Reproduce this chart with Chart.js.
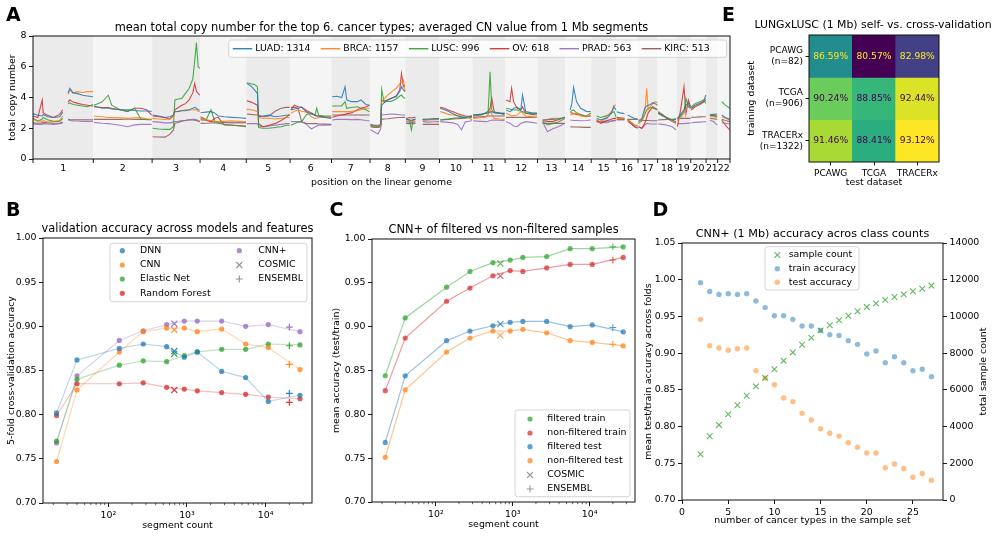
<!DOCTYPE html>
<html><head><meta charset="utf-8">
<script src="https://cdn.jsdelivr.net/npm/chart.js@4.4.1/dist/chart.umd.min.js"></script>
<style>
html,body{margin:0;padding:0;background:#fff;}
#wrap{position:relative;width:1000px;height:537px;overflow:hidden;background:#fff;}
canvas{position:absolute;}
</style></head><body>
<div id="wrap">
<canvas id="cA" width="740" height="195" style="left:0px;top:0px"></canvas>
<canvas id="cE" width="260" height="195" style="left:740px;top:0px"></canvas>
<canvas id="cB" width="330" height="342" style="left:0px;top:195px"></canvas>
<canvas id="cC" width="330" height="342" style="left:330px;top:195px"></canvas>
<canvas id="cD" width="370" height="342" style="left:630px;top:195px"></canvas>
</div>
<script>
// ================= DATA =================
// ---- Panel A: mean total copy number along the genome (positions in Mb, cumulative) ----
const chromNames = ['1','2','3','4','5','6','7','8','9','10','11','12','13','14','15','16','17','18','19','20','21','22'];
const chromLenMb = [249,243,198,191,181,171,159,146,141,136,135,134,115,107,103,90,81,78,59,63,48,51];
const cancerTypes = ['LUAD','BRCA','LUSC','OV','PRAD','KIRC'];
const cancerCounts = [1314,1157,996,618,563,513];
const cnPos = [
 [0,20,38,42,60,85,110,123],
 [145,152,165,185,205,225,248],
 [252,285,311,325,360,390,420,445,470,490],
 [494,520,545,565,580,586,600,615,630,645,660,668,675,682,689],
 [692,715,735,750,765,790,820,850,880],
 [883,900,915,927,932,950,975,1000,1025,1045,1060],
 [1065,1080,1095,1110,1130,1150,1165,1172,1180,1205,1232],
 [1236,1255,1275,1289,1296,1315,1340,1355,1375,1390],
 [1394,1410,1425,1436,1440,1450,1465,1480,1500,1515,1522,1530,1537],
 [1541,1555,1563,1570,1580],
 [1610,1630,1655,1677],
 [1682,1700,1715,1735,1755,1770,1785,1800,1813],
 [1818,1850,1870,1880,1888,1895,1905,1925,1948],
 [1954,1970,1977,1985,2000,2015,2022,2035,2060,2082],
 [2105,2125,2145,2170,2197],
 [2219,2226,2233,2245,2262,2285,2304],
 [2328,2345,2370,2390,2400,2408],
 [2411,2425,2443],
 [2456,2470,2485,2498],
 [2501,2515,2527,2535,2541,2550,2560,2570,2579],
 [2582,2600,2620,2640,2656],
 [2662,2675,2689,2697,2707,2716],
 [2719,2735,2755,2770,2779],
 [2796,2810,2826],
 [2845,2860,2878]
];
const cnLUAD = [
 [2.95,2.85,2.8,2.9,2.75,2.7,2.75,3.05],
 [4.3,4.6,4.3,4.25,4.15,4.1,4.05],
 [3.45,3.3,3.3,3.25,3.2,3.2,3.15,3.12,3.12,3.1],
 [2.86,2.8,2.7,2.75,2.85,3.08,3.1,3.14,3.14,3.2,3.3,3.36,3.3,3.2,3.19],
 [3.01,3.05,3.08,3.0,2.8,2.75,2.71,2.68,2.64],
 [4.92,4.75,4.5,4.27,2.75,2.8,2.85,2.75,2.8,2.85,2.86],
 [3.19,3.25,3.3,3.38,3.05,2.95,2.85,2.8,2.8,2.7,2.64],
 [4.05,4.08,4.0,4.7,3.85,3.73,3.73,3.84,3.55,3.5],
 [2.25,2.2,2.2,2.25,3.5,3.65,3.84,3.95,4.05,4.4,4.7,4.5,4.38],
 [2.58,2.55,2.5,2.55,2.58],
 [2.58,2.6,2.62,2.62],
 [3.3,3.2,3.1,2.95,2.8,2.75,2.71,2.75,2.8],
 [2.86,2.9,2.97,3.0,3.05,3.08,3.0,2.97,2.97],
 [3.19,3.08,3.15,3.3,3.36,3.19,4.16,3.08,3.0,2.97],
 [2.54,2.55,2.58,2.6,2.71],
 [3.19,3.62,4.66,3.73,3.3,3.1,3.08],
 [2.64,2.55,2.64,3.0,3.4,3.19],
 [3.08,3.0,2.95],
 [2.86,2.75,2.64,2.58],
 [2.43,2.64,3.3,3.45,3.5,3.55,3.66,3.6,3.5],
 [3.01,2.85,2.64,2.54,2.43],
 [2.64,2.9,3.19,3.5,3.62,3.3],
 [3.3,3.5,3.62,3.73,4.16],
 [2.86,2.9,2.93],
 [2.86,2.7,2.58]
];
const cnBRCA = [
 [2.55,2.5,2.45,2.5,2.42,2.42,2.5,2.8],
 [4.2,4.5,4.3,4.38,4.33,4.38,4.38],
 [2.8,2.75,2.7,2.7,2.68,2.65,2.68,2.7,2.6,2.55],
 [2.64,2.6,2.58,2.6,2.75,3.08,3.1,3.15,3.2,3.19,3.2,3.22,3.2,3.1,3.08],
 [2.58,2.55,2.5,2.45,2.43,2.45,2.48,2.45,2.43],
 [3.23,3.2,3.15,3.08,2.7,2.65,2.65,2.6,2.65,2.7,2.7],
 [2.97,3.1,3.2,3.1,3.05,2.75,2.64,2.65,2.7,2.7,2.71],
 [3.08,3.08,3.08,3.08,3.08,3.1,3.14,3.2,3.3,3.3],
 [2.2,2.15,2.15,2.2,3.73,3.9,4.16,4.35,4.6,4.9,5.0,5.14,4.38],
 [2.54,2.5,2.45,2.5,2.54],
 [2.54,2.55,2.55,2.55],
 [3.08,3.0,2.9,2.86,2.82,2.8,2.8,2.7,2.54],
 [2.64,2.68,2.71,2.9,3.19,2.9,2.64,2.6,2.58],
 [2.97,2.86,2.8,2.82,2.86,3.08,3.0,2.8,2.75,2.71],
 [2.54,2.58,2.64,2.64,2.64],
 [2.86,2.9,2.95,2.97,2.8,2.75,2.86],
 [2.54,2.43,2.75,3.1,3.5,3.5],
 [2.64,2.64,2.64],
 [2.54,2.4,2.21,2.2],
 [2.32,2.54,2.97,4.6,3.19,3.4,3.6,3.73,3.66],
 [3.08,2.86,2.64,2.54,2.36],
 [2.49,2.7,2.97,3.3,3.4,3.36],
 [3.3,3.45,3.6,3.8,3.95],
 [2.8,2.75,2.71],
 [2.75,2.65,2.54]
];
const cnLUSC = [
 [2.65,2.45,2.6,2.7,2.55,2.45,2.45,2.65],
 [3.6,3.65,3.55,3.5,3.45,3.4,3.55],
 [3.5,3.7,4.15,3.5,3.2,3.1,3.3,2.6,2.55,2.55],
 [2.0,1.95,1.93,1.93,2.1,3.84,3.9,3.95,4.27,4.6,5.2,6.4,7.57,6.0,5.9],
 [2.64,2.55,3.2,2.5,2.32,2.25,2.21,2.15,2.1],
 [4.96,4.9,4.85,4.7,2.05,2.0,2.0,2.05,2.1,2.2,2.2],
 [2.2,2.3,2.4,2.43,2.9,2.95,2.85,3.3,2.85,2.8,2.8],
 [3.45,3.45,3.45,3.73,3.3,3.35,3.4,3.3,3.2,3.08],
 [2.15,2.1,2.1,2.2,4.53,3.73,3.75,3.75,3.9,4.1,4.16,4.0,3.95],
 [2.64,2.5,1.89,2.55,2.6],
 [2.58,2.55,2.58,2.6],
 [2.54,2.58,2.6,2.64,2.68,2.7,2.72,2.75,2.8],
 [2.8,2.86,3.0,3.1,5.68,3.2,3.05,3.0,2.86],
 [3.3,3.25,3.2,3.2,3.19,3.1,3.08,3.0,2.97,2.97],
 [2.43,2.21,2.3,2.4,2.64],
 [3.08,3.15,3.19,3.0,2.9,2.8,2.97],
 [2.8,2.7,2.82,3.0,3.08,2.75],
 [2.7,2.65,2.6],
 [2.58,2.4,2.2,2.15],
 [2.32,2.5,2.9,3.19,3.3,3.36,3.3,3.25,3.23],
 [2.97,2.8,2.7,2.54,2.64],
 [2.54,2.8,3.08,3.95,3.4,3.3],
 [3.4,3.6,3.73,3.84,3.62],
 [2.86,2.82,2.75],
 [3.73,3.5,3.3]
];
const cnOV = [
 [2.8,2.7,3.84,3.0,2.85,2.7,2.9,3.2],
 [3.7,3.85,3.7,3.62,3.55,3.5,3.45],
 [3.4,3.35,3.35,3.3,3.2,3.1,3.3,3.3,3.2,2.86],
 [2.8,2.75,2.7,2.6,2.85,3.2,3.35,3.5,3.6,3.84,4.3,4.92,4.4,4.27,4.16],
 [2.75,2.55,2.43,2.65,2.71,2.21,2.2,2.18,2.15],
 [3.79,3.7,3.6,3.5,2.3,2.1,2.2,2.3,2.5,2.7,2.9],
 [3.19,3.5,3.4,3.36,3.15,3.0,2.85,2.8,2.8,2.75,2.71],
 [2.71,2.8,2.86,2.9,2.95,3.0,3.2,3.3,3.4,3.5],
 [2.2,2.15,2.1,2.2,3.84,3.75,3.85,3.95,4.1,4.5,5.57,4.7,4.8],
 [2.64,2.7,2.65,2.7,2.71],
 [2.54,2.55,2.6,2.62],
 [3.36,3.3,3.19,3.08,2.95,2.86,2.8,2.78,2.8],
 [2.86,2.9,2.97,3.1,3.3,3.95,3.05,2.97,2.97],
 [3.84,3.73,4.6,3.73,3.3,3.2,3.4,2.97,2.9,2.86],
 [2.49,2.45,2.43,2.55,2.71],
 [3.01,3.0,2.95,2.9,2.86,2.75,2.8],
 [2.54,2.32,2.49,2.6,2.64,2.64],
 [2.71,2.68,2.64],
 [2.54,2.3,2.1,2.0],
 [2.1,2.0,2.32,2.7,3.0,3.19,3.4,3.3,3.19],
 [3.08,2.9,2.64,2.43,2.32],
 [2.1,3.19,4.7,2.97,3.84,3.4],
 [3.19,3.4,3.55,3.7,3.84],
 [2.86,2.84,2.8],
 [2.54,2.2,1.89]
];
const cnPRAD = [
 [2.28,2.25,2.25,2.3,2.28,2.25,2.3,2.35],
 [2.55,2.5,2.48,2.47,2.45,2.45,2.45],
 [2.38,2.33,2.3,2.28,2.2,2.1,2.22,2.25,2.25,2.25],
 [2.43,2.4,2.35,2.35,2.4,2.43,2.45,2.5,2.52,2.55,2.58,2.58,2.55,2.5,2.49],
 [2.54,2.5,2.45,2.43,2.42,2.4,2.36,2.36,2.36],
 [2.3,2.3,2.3,2.3,2.15,2.1,2.15,2.2,2.25,2.3,2.3],
 [2.43,2.43,2.43,2.43,2.25,1.95,2.1,2.15,2.2,2.2,2.21],
 [2.54,2.58,2.58,2.58,2.58,2.56,2.58,2.55,2.5,2.49],
 [1.9,1.75,1.62,1.95,2.86,2.88,2.9,2.93,2.9,2.88,2.86,2.86,2.86],
 [2.43,2.4,2.35,2.4,2.43],
 [2.43,2.4,2.42,2.43],
 [2.43,2.4,2.38,2.35,2.25,1.89,2.4,2.45,2.49],
 [2.49,2.45,2.43,2.45,2.5,2.52,2.54,2.52,2.49],
 [2.43,2.32,2.25,2.15,2.1,2.32,2.35,2.43,2.38,2.32],
 [2.43,1.78,1.95,2.1,2.32],
 [2.54,2.52,2.5,2.5,2.49,2.5,2.54],
 [2.43,2.38,2.36,2.45,2.5,2.54],
 [2.54,2.54,2.54],
 [2.43,2.3,2.1,2.05],
 [2.1,2.0,2.2,2.32,2.3,2.28,2.28,2.28,2.28],
 [2.28,2.25,2.2,2.1,1.89],
 [2.28,2.3,2.3,2.32,2.32,2.36],
 [2.36,2.38,2.4,2.42,2.43],
 [2.5,2.45,2.2],
 [2.36,2.33,2.28]
];
const cnKIRC = [
 [2.35,2.33,2.35,2.38,2.35,2.33,2.33,2.4],
 [2.58,2.56,2.55,2.55,2.55,2.55,2.55],
 [2.58,2.58,2.58,2.58,2.58,2.6,2.58,2.58,2.58,2.58],
 [1.45,1.43,1.42,1.6,1.89,2.32,2.38,2.45,2.5,2.54,2.54,2.52,2.5,2.45,2.43],
 [2.32,2.33,2.34,2.35,2.35,2.36,2.36,2.36,2.36],
 [2.93,2.9,2.88,2.86,2.85,2.75,2.8,3.1,3.3,3.36,3.36],
 [3.36,3.36,3.3,2.4,2.32,2.3,2.3,2.3,2.28,2.27,2.25],
 [2.86,2.86,2.86,2.86,2.86,2.86,2.86,2.86,2.86,2.86],
 [2.1,2.05,2.05,2.1,2.58,2.6,2.62,2.65,2.68,2.7,2.7,2.71,2.71],
 [2.32,2.3,2.3,2.3,2.32],
 [2.25,2.25,2.25,2.25],
 [2.54,2.56,2.58,2.6,2.62,2.64,2.66,2.68,2.71],
 [2.71,2.75,2.78,2.8,2.8,2.8,2.8,2.8,2.8],
 [2.71,2.71,2.71,2.71,2.71,2.71,2.71,2.71,2.71,2.71],
 [2.32,2.32,2.32,2.32,2.32],
 [2.1,2.09,2.08,2.08,2.07,2.06,2.06],
 [2.43,2.45,2.47,2.48,2.49,2.49],
 [2.58,2.58,2.58],
 [2.58,2.58,2.58,2.58],
 [2.54,2.52,2.5,2.5,2.5,2.49,2.49,2.49,2.49],
 [2.54,2.56,2.58,2.58,2.58],
 [2.64,2.64,2.64,2.64,2.64,2.64],
 [2.71,2.72,2.74,2.75,2.75],
 [2.64,2.62,2.58],
 [2.58,2.5,2.43]
];
const ticksA_Y = [0,2,4,6,8];

// ---- Panel B: validation accuracy across models and features ----
const segCounts = [22,40,138,278,552,925,1352,2760,5570,10800,27300];
const cosmicCount = 690;
const ensemblCount = 20000;
const modelNames = ['DNN','CNN','Elastic Net','Random Forest','CNN+'];
const accDNN  = [0.802,0.862,0.875,0.880,0.877,0.865,0.871,0.849,0.842,0.815,0.822];
const accCNN  = [0.747,0.828,0.871,0.894,0.898,0.898,0.894,0.897,0.880,0.876,0.851];
const accEN   = [0.770,0.840,0.856,0.861,0.860,0.867,0.871,0.874,0.874,0.880,0.879];
const accRF   = [0.799,0.835,0.835,0.836,0.831,0.829,0.827,0.825,0.823,0.820,0.818];
const accCNNp = [0.768,0.844,0.884,0.895,0.902,0.906,0.906,0.906,0.900,0.902,0.894];
const accCosmic  = [0.872,0.896,0.869,0.828,0.903];
const accEnsembl = [0.824,0.857,0.878,0.814,0.899];
const ticksAcc = [0.70,0.75,0.80,0.85,0.90,0.95,1.00];
const ticksLog = [100,1000,10000];

// ---- Panel C: CNN+ of filtered vs non-filtered samples ----
const cSeriesNames = ['filtered train','non-filtered train','filtered test','non-filtered test'];
const cFiltTrain    = [0.844,0.910,0.945,0.963,0.973,0.976,0.979,0.980,0.989,0.989,0.991];
const cNonFiltTrain = [0.827,0.887,0.929,0.944,0.958,0.964,0.963,0.967,0.971,0.971,0.979];
const cFiltTest     = [0.768,0.844,0.884,0.895,0.901,0.905,0.906,0.906,0.900,0.902,0.894];
const cNonFiltTest  = [0.751,0.828,0.871,0.887,0.895,0.895,0.897,0.893,0.884,0.882,0.878];
const cCosmic  = [0.972,0.958,0.903,0.890];
const cEnsembl = [0.991,0.976,0.899,0.880];

// ---- Panel D: CNN+ (1 Mb) accuracy across class counts ----
const nTypes = [2,3,4,5,6,7,8,9,10,11,12,13,14,15,16,17,18,19,20,21,22,23,24,25,26,27];
const trainAcc = [0.996,0.984,0.980,0.981,0.980,0.981,0.971,0.962,0.951,0.951,0.946,0.937,0.937,0.931,0.925,0.924,0.917,0.912,0.899,0.903,0.887,0.895,0.887,0.876,0.878,0.868];
const testAcc  = [0.946,0.910,0.907,0.904,0.906,0.907,0.876,0.866,0.857,0.839,0.834,0.818,0.809,0.797,0.791,0.787,0.778,0.772,0.764,0.764,0.744,0.749,0.743,0.731,0.736,0.727];
const sampleCount = [2490,3470,4090,4670,5160,5680,6190,6660,7120,7590,8040,8460,8840,9240,9520,9790,10040,10280,10510,10710,10900,11060,11200,11370,11510,11680];
const ticksD_X = [0,5,10,15,20,25];
const ticksD_Y = [0.70,0.75,0.80,0.85,0.90,0.95,1.00,1.05];
const ticksD_Y2 = [0,2000,4000,6000,8000,10000,12000,14000];

// ---- Panel E: LUNGxLUSC self- vs cross-validation ----
const eTestSets = ['PCAWG','TCGA','TRACERx'];
const eTrainSets = ['PCAWG','TCGA','TRACERx'];
const eTrainN = [82,906,1322];
const eAcc = [
 [86.59,80.57,82.98],
 [90.24,88.85,92.44],
 [91.46,88.41,93.12]
];

// ================= STYLE / HELPERS =================
const FONT = "'DejaVu Sans', sans-serif";
Chart.defaults.font.family = FONT;
Chart.defaults.font.size = 9.4;
Chart.defaults.color = '#000';
Chart.defaults.animation = false;
Chart.defaults.responsive = false;
Chart.defaults.plugins.legend.display = false;
Chart.defaults.plugins.tooltip.enabled = false;
Chart.defaults.events = [];

const TAB = {blue:'31,119,180', orange:'255,127,14', green:'44,160,44', red:'214,39,40', purple:'148,103,189', brown:'140,86,75', gray:'127,127,127'};
const rgba = (c,a) => `rgba(${TAB[c]},${a})`;

function txt(ctx, s, x, y, o = {}) {
  ctx.save();
  ctx.font = `${o.weight || 'normal'} ${o.size || 9.4}px ${FONT}`;
  ctx.fillStyle = o.color || '#000';
  ctx.textAlign = o.align || 'center';
  ctx.textBaseline = o.baseline || 'alphabetic';
  ctx.translate(x, y);
  if (o.rot) ctx.rotate(o.rot);
  ctx.fillText(s, 0, 0);
  ctx.restore();
}
function frame(chart) {
  const a = chart.chartArea, c = chart.ctx;
  c.save(); c.strokeStyle = '#111'; c.lineWidth = 1;
  c.strokeRect(a.left, a.top, a.right - a.left, a.bottom - a.top);
  c.restore();
}
function lbox(ctx, x, y, w, h) {
  const r = 2.5;
  ctx.save();
  ctx.fillStyle = 'rgba(255,255,255,0.8)'; ctx.strokeStyle = '#d0d0d0'; ctx.lineWidth = 0.9;
  ctx.beginPath();
  ctx.moveTo(x + r, y); ctx.lineTo(x + w - r, y); ctx.arcTo(x + w, y, x + w, y + r, r);
  ctx.lineTo(x + w, y + h - r); ctx.arcTo(x + w, y + h, x + w - r, y + h, r);
  ctx.lineTo(x + r, y + h); ctx.arcTo(x, y + h, x, y + h - r, r);
  ctx.lineTo(x, y + r); ctx.arcTo(x, y, x + r, y, r);
  ctx.closePath(); ctx.fill(); ctx.stroke();
  ctx.restore();
}
function mark(ctx, type, x, y, color, r) {
  ctx.save(); ctx.fillStyle = color; ctx.strokeStyle = color; ctx.lineWidth = 1.1;
  ctx.beginPath();
  if (type === 'circle') { ctx.arc(x, y, r, 0, Math.PI * 2); ctx.fill(); }
  else if (type === 'x') { ctx.moveTo(x - r, y - r); ctx.lineTo(x + r, y + r); ctx.moveTo(x - r, y + r); ctx.lineTo(x + r, y - r); ctx.stroke(); }
  else if (type === 'plus') { ctx.moveTo(x - r, y); ctx.lineTo(x + r, y); ctx.moveTo(x, y - r); ctx.lineTo(x, y + r); ctx.stroke(); }
  else if (type === 'line') { ctx.lineWidth = 1.4; ctx.moveTo(x, y); ctx.lineTo(x + r, y); ctx.stroke(); }
  ctx.restore();
}
function tickGrid(len) {
  return {display: true, drawOnChartArea: false, drawTicks: true, tickLength: len, tickColor: '#000', tickWidth: 0.9};
}
function mkAxis(type, pos, min, max, ticks, fmt, size, extra = {}) {
  const fs = extra.fontSize || 9.4;
  const ax = {
    type, position: pos, min, max, bounds: 'data',
    grid: tickGrid(extra.tickLen || 4),
    border: {display: false},
    ticks: {padding: 2.5, color: '#000', font: {size: fs}, autoSkip: false, maxRotation: 0, minRotation: 0,
            callback: (v, i) => fmt(v, i)},
    afterBuildTicks: s => { s.ticks = ticks.map(v => ({value: v})); },
    afterFit: s => { if (s.isHorizontal()) s.height = size; else s.width = size; }
  };
  if (extra.reverse) ax.reverse = true;
  return ax;
}
const supMap = {100: '10\u00B2', 1000: '10\u00B3', 10000: '10\u2074'};
function logMinor(chart) {
  const {ctx, scales: {x}, chartArea: a} = chart;
  ctx.save(); ctx.strokeStyle = '#000'; ctx.lineWidth = 0.6;
  for (let d = 10; d <= 10000; d *= 10) for (let k = 2; k <= 9; k++) {
    const v = k * d; if (v < x.min || v > x.max) continue;
    const px = x.getPixelForValue(v);
    ctx.beginPath(); ctx.moveTo(px, a.bottom); ctx.lineTo(px, a.bottom + 2.2); ctx.stroke();
  }
  ctx.restore();
}

// ================= PANEL A =================
const chromStart = [];
chromLenMb.reduce((acc, l) => { chromStart.push(acc); return acc + l; }, 0);
const genomeEnd = chromLenMb.reduce((a, b) => a + b, 0);
const chromCenter = chromStart.map((s, i) => s + chromLenMb[i] / 2);
const cnSeries = [cnLUAD, cnBRCA, cnLUSC, cnOV, cnPRAD, cnKIRC];
const cnColors = ['blue','orange','green','red','purple','brown'];
function toPts(pos, vals) {
  const out = [];
  pos.forEach((seg, i) => {
    seg.forEach((x, j) => out.push({x, y: vals[i][j]}));
    out.push({x: seg[seg.length - 1] + 0.5, y: null});
  });
  return out;
}
new Chart(document.getElementById('cA'), {
  type: 'scatter',
  data: {datasets: cnSeries.map((s, i) => ({
    data: toPts(cnPos, s), showLine: true, spanGaps: false,
    borderColor: rgba(cnColors[i], 0.85), borderWidth: 1.1, pointRadius: 0, tension: 0
  }))},
  options: {
    layout: {padding: {left: 0, right: 10, top: 36, bottom: 0}},
    scales: {
      x: {type: 'linear', min: 0, max: genomeEnd, bounds: 'data',
          grid: {display: true, drawOnChartArea: false, drawTicks: false},
          border: {display: false},
          ticks: {padding: 4, autoSkip: false, maxRotation: 0, minRotation: 0, color: '#000', font: {size: 9.4},
                  callback: (v, i) => chromNames[i]},
          afterBuildTicks: s => { s.ticks = chromCenter.map(v => ({value: v})); },
          afterFit: s => { s.height = 36; }},
      y: mkAxis('linear', 'left', 0, 8, ticksA_Y, v => String(v), 33)
    }
  },
  plugins: [{
    id: 'pA',
    beforeDatasetsDraw(chart) {
      const {ctx, chartArea: a, scales: {x}} = chart;
      ctx.save();
      chromStart.forEach((s, i) => {
        const x0 = x.getPixelForValue(s), x1 = x.getPixelForValue(s + chromLenMb[i]);
        ctx.fillStyle = i % 2 === 0 ? '#ebebeb' : '#f5f5f5';
        ctx.fillRect(x0, a.top, x1 - x0, a.bottom - a.top);
      });
      ctx.restore();
    },
    afterDraw(chart) {
      const {ctx, chartArea: a, scales: {x}} = chart;
      frame(chart);
      ctx.save(); ctx.strokeStyle = '#000'; ctx.lineWidth = 0.9;
      [...chromStart, genomeEnd].forEach(b => {
        const px = x.getPixelForValue(b);
        ctx.beginPath(); ctx.moveTo(px, a.bottom); ctx.lineTo(px, a.bottom + 4); ctx.stroke();
      });
      ctx.restore();
      const cx0 = (a.left + a.right) / 2;
      txt(ctx, 'mean total copy number for the top 6. cancer types; averaged CN value from 1 Mb segments', cx0, 30.5, {size: 11.4});
      txt(ctx, 'position on the linear genome', cx0, 184.5);
      txt(ctx, 'total copy number', 13, (a.top + a.bottom) / 2, {rot: -Math.PI / 2, baseline: 'middle'});
      txt(ctx, 'A', 6, 21, {size: 19, weight: 'bold', align: 'left'});
      txt(ctx, 'E', 722, 21, {size: 19, weight: 'bold', align: 'left'});
      // legend
      lbox(ctx, 228.7, 40, 498, 17.3);
      ctx.font = `9.4px ${FONT}`;
      let lx = 232.7; const ly = 48.7;
      cancerTypes.forEach((t, i) => {
        const lab = `${t}: ${cancerCounts[i]}`;
        mark(ctx, 'line', lx, ly, rgba(cnColors[i], 0.9), 19.5);
        txt(ctx, lab, lx + 22.5, ly, {align: 'left', baseline: 'middle'});
        ctx.font = `9.4px ${FONT}`;
        lx += 22.5 + ctx.measureText(lab).width + 10.3;
      });
    }
  }]
});

// ================= PANEL B =================
const bVals = [accDNN, accCNN, accEN, accRF, accCNNp];
const bColors = ['blue','orange','green','red','purple'];
const bDatasets = [];
bVals.forEach((vals, i) => {
  const c = bColors[i];
  bDatasets.push({data: segCounts.map((x, j) => ({x, y: vals[j]})), showLine: true, pointRadius: 0,
                  borderColor: rgba(c, 0.3), borderWidth: 1.2, order: 3});
  bDatasets.push({data: segCounts.map((x, j) => ({x, y: vals[j]})), showLine: false, pointRadius: 2.6,
                  pointBackgroundColor: rgba(c, 0.75), pointBorderWidth: 0, order: 2});
  bDatasets.push({data: [{x: cosmicCount, y: accCosmic[i]}], pointStyle: 'crossRot', pointRadius: 4.3,
                  pointBorderColor: rgba(c, 0.9), pointBorderWidth: 1.2, order: 1});
  bDatasets.push({data: [{x: ensemblCount, y: accEnsembl[i]}], pointStyle: 'cross', pointRadius: 3.4,
                  pointBorderColor: rgba(c, 0.9), pointBorderWidth: 1.2, order: 1});
});
new Chart(document.getElementById('cB'), {
  type: 'scatter',
  data: {datasets: bDatasets},
  options: {
    layout: {padding: {left: 0, right: 18, top: 43, bottom: 0}},
    scales: {
      x: mkAxis('logarithmic', 'bottom', 14.8, 38800, ticksLog, v => supMap[v] || '', 34),
      y: mkAxis('linear', 'left', 0.70, 1.00, ticksAcc, v => v.toFixed(2), 43)
    }
  },
  plugins: [{
    id: 'pB',
    afterDraw(chart) {
      const {ctx, chartArea: a} = chart;
      frame(chart); logMinor(chart);
      const cx0 = (a.left + a.right) / 2;
      txt(ctx, 'validation accuracy across models and features', cx0, 37.3, {size: 11.4});
      txt(ctx, 'segment count', cx0, 333);
      txt(ctx, '5-fold cross-validation accuracy', 11.7, (a.top + a.bottom) / 2, {rot: -Math.PI / 2, baseline: 'middle'});
      txt(ctx, 'B', 6, 20.6, {size: 19, weight: 'bold', align: 'left'});
      lbox(ctx, 110, 48.3, 197, 58.4);
      const rows = [55.7, 70, 84, 98.3];
      [0, 1, 2, 3].forEach(i => {
        mark(ctx, 'circle', 122.3, rows[i], rgba(bColors[i], 0.75), 2.6);
        txt(ctx, modelNames[i], 140, rows[i], {align: 'left', baseline: 'middle'});
      });
      mark(ctx, 'circle', 239.3, rows[0], rgba('purple', 0.75), 2.6);
      txt(ctx, modelNames[4], 258.3, rows[0], {align: 'left', baseline: 'middle'});
      mark(ctx, 'x', 239.3, rows[1], rgba('gray', 0.85), 3);
      txt(ctx, 'COSMIC', 258.3, rows[1], {align: 'left', baseline: 'middle'});
      mark(ctx, 'plus', 239.3, rows[2], rgba('gray', 0.85), 3.4);
      txt(ctx, 'ENSEMBL', 258.3, rows[2], {align: 'left', baseline: 'middle'});
    }
  }]
});

// ================= PANEL C =================
const cVals = [cFiltTrain, cNonFiltTrain, cFiltTest, cNonFiltTest];
const cColors = ['green','red','blue','orange'];
const cDatasets = [];
cVals.forEach((vals, i) => {
  const c = cColors[i];
  cDatasets.push({data: segCounts.map((x, j) => ({x, y: vals[j]})), showLine: true, pointRadius: 0,
                  borderColor: rgba(c, 0.45), borderWidth: 1.2, order: 3});
  cDatasets.push({data: segCounts.map((x, j) => ({x, y: vals[j]})), showLine: false, pointRadius: 2.6,
                  pointBackgroundColor: rgba(c, 0.7), pointBorderWidth: 0, order: 2});
  cDatasets.push({data: [{x: cosmicCount, y: cCosmic[i]}], pointStyle: 'crossRot', pointRadius: 4.3,
                  pointBorderColor: rgba(c, 0.75), pointBorderWidth: 1.1, order: 1});
  cDatasets.push({data: [{x: ensemblCount, y: cEnsembl[i]}], pointStyle: 'cross', pointRadius: 3.4,
                  pointBorderColor: rgba(c, 0.75), pointBorderWidth: 1.1, order: 1});
});
new Chart(document.getElementById('cC'), {
  type: 'scatter',
  data: {datasets: cDatasets},
  options: {
    layout: {padding: {left: 0, right: 25, top: 44, bottom: 0}},
    scales: {
      x: mkAxis('logarithmic', 'bottom', 14.8, 38800, ticksLog, v => supMap[v] || '', 35),
      y: mkAxis('linear', 'left', 0.70, 1.00, ticksAcc, v => v.toFixed(2), 42)
    }
  },
  plugins: [{
    id: 'pC',
    afterDraw(chart) {
      const {ctx, chartArea: a} = chart;
      frame(chart); logMinor(chart);
      const cx0 = (a.left + a.right) / 2;
      txt(ctx, 'CNN+ of filtered vs non-filtered samples', cx0, 38, {size: 11.4});
      txt(ctx, 'segment count', cx0, 332.3);
      txt(ctx, 'mean accuracy (test/train)', 6.7, (a.top + a.bottom) / 2, {rot: -Math.PI / 2, baseline: 'middle'});
      txt(ctx, 'C', -0.5, 20.6, {size: 19, weight: 'bold', align: 'left'});
      lbox(ctx, 185, 215, 115, 86.7);
      const rows = [224, 238, 251.7, 265.7, 280, 294];
      cSeriesNames.forEach((n, i) => {
        mark(ctx, 'circle', 200, rows[i], rgba(cColors[i], 0.7), 2.6);
        txt(ctx, n, 217.3, rows[i], {align: 'left', baseline: 'middle'});
      });
      mark(ctx, 'x', 200, rows[4], rgba('gray', 0.8), 3);
      txt(ctx, 'COSMIC', 217.3, rows[4], {align: 'left', baseline: 'middle'});
      mark(ctx, 'plus', 200, rows[5], rgba('gray', 0.8), 3.4);
      txt(ctx, 'ENSEMBL', 217.3, rows[5], {align: 'left', baseline: 'middle'});
    }
  }]
});

// ================= PANEL D =================
new Chart(document.getElementById('cD'), {
  type: 'scatter',
  data: {datasets: [
    {data: nTypes.map((x, j) => ({x, y: sampleCount[j]})), yAxisID: 'y2', pointStyle: 'crossRot', pointRadius: 4,
     pointBorderColor: rgba('green', 0.75), pointBorderWidth: 1.1, order: 1},
    {data: nTypes.map((x, j) => ({x, y: trainAcc[j]})), yAxisID: 'y', pointRadius: 2.7,
     pointBackgroundColor: rgba('blue', 0.5), pointBorderWidth: 0, order: 2},
    {data: nTypes.map((x, j) => ({x, y: testAcc[j]})), yAxisID: 'y', pointRadius: 2.7,
     pointBackgroundColor: rgba('orange', 0.5), pointBorderWidth: 0, order: 2}
  ]},
  options: {
    layout: {padding: {left: 0, right: 0, top: 48, bottom: 0}},
    scales: {
      x: mkAxis('linear', 'bottom', 0, 28.25, ticksD_X, v => String(v), 37),
      y: mkAxis('linear', 'left', 0.70, 1.05, ticksD_Y, v => v.toFixed(2), 52),
      y2: mkAxis('linear', 'right', 0, 14000, ticksD_Y2, v => String(v), 57)
    }
  },
  plugins: [{
    id: 'pD',
    afterDraw(chart) {
      const {ctx, chartArea: a} = chart;
      frame(chart);
      const cx0 = (a.left + a.right) / 2;
      txt(ctx, 'CNN+ (1 Mb) accuracy acros class counts', cx0, 42, {size: 11.2});
      txt(ctx, 'number of cancer types in the sample set', cx0, 328.3);
      txt(ctx, 'mean test/train accuracy across folds', 19, (a.top + a.bottom) / 2, {rot: -Math.PI / 2, baseline: 'middle'});
      txt(ctx, 'total sample count', 354, (a.top + a.bottom) / 2, {rot: -Math.PI / 2, baseline: 'middle'});
      txt(ctx, 'D', 22.5, 20.6, {size: 19, weight: 'bold', align: 'left'});
      lbox(ctx, 135, 51.7, 94, 43.3);
      mark(ctx, 'x', 147.3, 60, rgba('green', 0.75), 2.9);
      txt(ctx, 'sample count', 158.7, 60, {align: 'left', baseline: 'middle'});
      mark(ctx, 'circle', 147.3, 73.7, rgba('blue', 0.5), 2.7);
      txt(ctx, 'train accuracy', 158.7, 73.7, {align: 'left', baseline: 'middle'});
      mark(ctx, 'circle', 147.3, 87.3, rgba('orange', 0.5), 2.7);
      txt(ctx, 'test accuracy', 158.7, 87.3, {align: 'left', baseline: 'middle'});
    }
  }]
});

// ================= PANEL E =================
const VIR = ['#440154','#482475','#414487','#355f8d','#2a788e','#21918c','#22a884','#44bf70','#7ad151','#bddf26','#fde725'];
function hex2rgb(h) { return [1, 3, 5].map(k => parseInt(h.substr(k, 2), 16)); }
function viridis(t) {
  t = Math.max(0, Math.min(1, t));
  const p = t * 10, i = Math.min(9, Math.floor(p)), f = p - i;
  const a = hex2rgb(VIR[i]), b = hex2rgb(VIR[i + 1]);
  return `rgb(${a.map((v, k) => Math.round(v + (b[k] - v) * f)).join(',')})`;
}
const eFlat = eAcc.flat();
const eMin = Math.min(...eFlat), eMax = Math.max(...eFlat);
const eNorm = v => (v - eMin) / (eMax - eMin);
const eRowLabels = eTrainSets.map((s, i) => [s, `(n=${eTrainN[i]})`]);
new Chart(document.getElementById('cE'), {
  type: 'bar',
  data: {
    labels: eTestSets,
    datasets: eAcc.map((row, r) => ({
      data: row.map(() => [r, r + 1]),
      backgroundColor: row.map(v => viridis(eNorm(v))),
      borderWidth: 0, grouped: false, barPercentage: 1, categoryPercentage: 1
    }))
  },
  options: {
    layout: {padding: {left: 0, right: 61, top: 35, bottom: 0}},
    scales: {
      x: {type: 'category', offset: true,
          grid: {display: true, drawOnChartArea: false, drawTicks: true, tickLength: 3.5, tickColor: '#000', tickWidth: 0.9, offset: false},
          border: {display: false},
          ticks: {padding: 2.5, color: '#000', font: {size: 9}, autoSkip: false, maxRotation: 0, minRotation: 0},
          afterFit: s => { s.height = 33; }},
      y: mkAxis('linear', 'left', 0, 3, [0.5, 1.5, 2.5], (v, i) => eRowLabels[i], 69, {reverse: true, tickLen: 3.5, fontSize: 9})
    }
  },
  plugins: [{
    id: 'pE',
    afterDatasetsDraw(chart) {
      const ctx = chart.ctx;
      eAcc.forEach((row, r) => {
        const meta = chart.getDatasetMeta(r);
        row.forEach((v, c) => {
          const el = meta.data[c];
          const cy = (el.y + el.base) / 2;
          txt(ctx, v.toFixed(2) + '%', el.x, cy, {size: 9.2, baseline: 'middle',
              color: eNorm(v) < 0.5 ? '#fde725' : '#440154'});
        });
      });
    },
    afterDraw(chart) {
      const {ctx, chartArea: a} = chart;
      frame(chart);
      const cx0 = (a.left + a.right) / 2;
      txt(ctx, 'LUNGxLUSC (1 Mb) self- vs. cross-validation', cx0 - 1, 28, {size: 10.9});
      txt(ctx, 'test dataset', cx0, 185);
      txt(ctx, 'training dataset', 11.7, (a.top + a.bottom) / 2, {rot: -Math.PI / 2, baseline: 'middle'});
    }
  }]
});
</script>
</body></html>
